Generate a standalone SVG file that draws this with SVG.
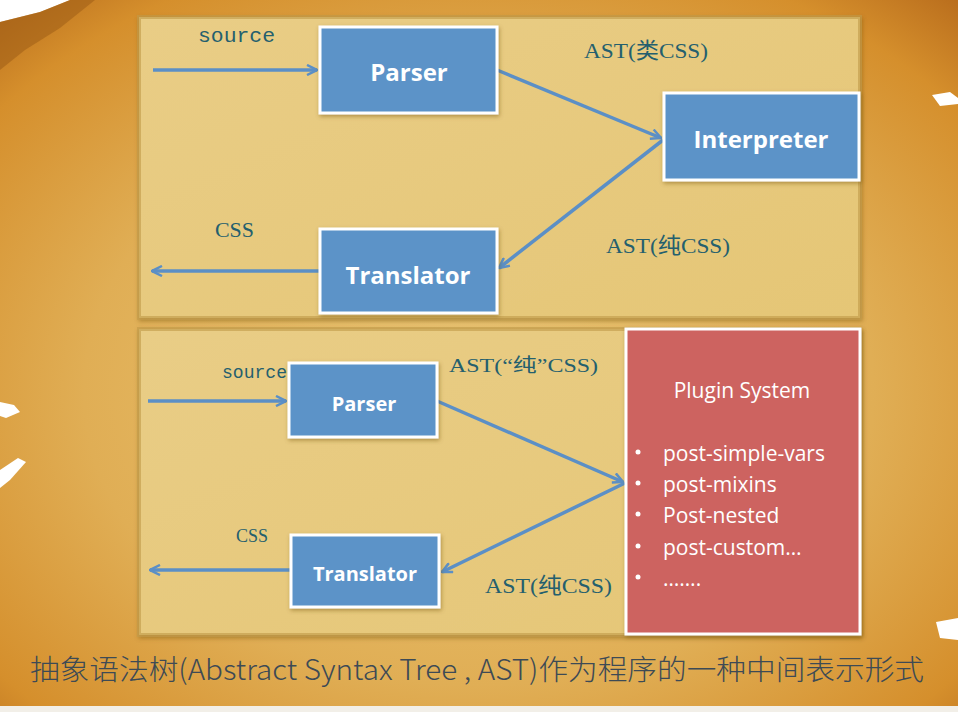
<svg xmlns="http://www.w3.org/2000/svg" width="958" height="712" viewBox="0 0 958 712">
<defs>
<radialGradient id="bg" cx="0.5" cy="0.55" r="0.75">
<stop offset="0" stop-color="#ecc978"/>
<stop offset="0.55" stop-color="#e0ae55"/>
<stop offset="0.85" stop-color="#d58f2c"/>
<stop offset="1" stop-color="#b86c1c"/>
</radialGradient>
<linearGradient id="panel" x1="0" y1="0" x2="1" y2="1">
<stop offset="0" stop-color="#e9cd86"/>
<stop offset="1" stop-color="#e5c676"/>
</linearGradient>
<marker id="ah" viewBox="0 0 12 12" refX="11" refY="6" markerWidth="12" markerHeight="12" markerUnits="userSpaceOnUse" orient="auto">
<path d="M1,1 L11,6 L1,11" fill="none" stroke="#5b8fc6" stroke-width="2.5" stroke-linejoin="miter"/>
</marker>
<filter id="sh" x="-10%" y="-10%" width="120%" height="120%">
<feDropShadow dx="1" dy="2" stdDeviation="2" flood-color="#6b4a10" flood-opacity="0.45"/>
</filter>
</defs>
<style>
.box{fill:#5b93c8;stroke:#ffffff;stroke-width:3}
.bt{font-family:"Open Sans","Liberation Sans",sans-serif;font-weight:bold;fill:#ffffff;text-anchor:middle}
.lbl{font-family:"Liberation Serif","Noto Sans CJK SC",serif;fill:#245f6e}
.mono{font-family:"Liberation Mono","DejaVu Sans Mono",monospace;fill:#245f6e}
.conn{stroke:#5b8fc6;stroke-width:3.5;fill:none;marker-end:url(#ah)}
.pl{font-family:"Open Sans","Liberation Sans",sans-serif;fill:#ffffff;font-size:21px}
.panel{fill:url(#panel);stroke:#bf9a48;stroke-width:4;stroke-opacity:0.6}
</style>
<rect x="0" y="0" width="958" height="712" fill="url(#bg)"/>
<path d="M0,0 L70,0 L40,12 L0,22 Z" fill="#ffffff"/>
<path d="M0,22 L40,12 L70,0 L95,0 L60,28 L25,50 L0,70 Z" fill="#9a5a14" opacity="0.5"/>
<path d="M932,95 L950,92 L958,98 L958,104 L940,106 Z" fill="#ffffff"/>
<path d="M0,402 L14,405 L20,412 L6,418 L0,416 Z" fill="#ffffff"/>
<path d="M0,470 L18,458 L26,462 L10,480 L0,488 Z" fill="#ffffff"/>
<path d="M936,622 L958,618 L958,640 L940,638 Z" fill="#ffffff"/>
<rect x="0" y="706" width="958" height="6" fill="#f2efe8"/>

<g id="panel-top"><rect class="panel" x="139" y="17" width="721" height="301" filter="url(#sh)"/></g>
<g id="panel-bottom"><rect class="panel" x="139" y="329" width="721" height="306" filter="url(#sh)"/></g>

<g id="connectors">
<line class="conn" x1="153" y1="70" x2="317" y2="70"/>
<line class="conn" x1="497" y1="70" x2="661" y2="138"/>
<line class="conn" x1="663" y1="140" x2="499" y2="268"/>
<line class="conn" x1="319" y1="271" x2="152" y2="271"/>
<line class="conn" x1="148" y1="401" x2="286" y2="401"/>
<line class="conn" x1="437" y1="401" x2="623" y2="482"/>
<line class="conn" x1="625" y1="483" x2="442" y2="572"/>
<line class="conn" x1="290" y1="570" x2="150" y2="570"/>
</g>

<g id="labels">
<text class="mono" x="198" y="42" font-size="20" textLength="77" lengthAdjust="spacingAndGlyphs">source</text>
<text class="lbl" x="215" y="237" font-size="22" textLength="39" lengthAdjust="spacingAndGlyphs">CSS</text>
<text class="lbl" x="584" y="58" font-size="22" textLength="124" lengthAdjust="spacingAndGlyphs">AST(类CSS)</text>
<text class="lbl" x="606" y="253" font-size="22" textLength="124" lengthAdjust="spacingAndGlyphs">AST(纯CSS)</text>
<text class="mono" x="222" y="378" font-size="18" textLength="65" lengthAdjust="spacingAndGlyphs">source</text>
<text class="lbl" x="449" y="372" font-size="19" textLength="149" lengthAdjust="spacingAndGlyphs">AST(“纯”CSS)</text>
<text class="lbl" x="236" y="542" font-size="19" textLength="32" lengthAdjust="spacingAndGlyphs">CSS</text>
<text class="lbl" x="485" y="593" font-size="22" textLength="127" lengthAdjust="spacingAndGlyphs">AST(纯CSS)</text>
</g>

<g id="parser-top"><rect class="box" x="320" y="27" width="177" height="86" filter="url(#sh)"/><text class="bt" x="409" y="81" font-size="24">Parser</text></g>
<g id="interpreter"><rect class="box" x="664" y="93" width="195" height="87" filter="url(#sh)"/><text class="bt" x="761" y="148" font-size="24">Interpreter</text></g>
<g id="translator-top"><rect class="box" x="320" y="229" width="177" height="84" filter="url(#sh)"/><text class="bt" x="408" y="284" font-size="24">Translator</text></g>

<g id="parser-bottom"><rect class="box" x="289" y="363" width="148" height="74" filter="url(#sh)"/><text class="bt" x="364" y="411" font-size="20">Parser</text></g>
<g id="translator-bottom"><rect class="box" x="291" y="535" width="148" height="72" filter="url(#sh)"/><text class="bt" x="365" y="581" font-size="20">Translator</text></g>

<g id="plugin-system">
<rect x="626" y="329" width="234" height="305" fill="#cd6361" stroke="#ffffff" stroke-width="3" filter="url(#sh)"/>
<text class="pl" x="742" y="398" text-anchor="middle">Plugin System</text>
<g class="pl">
<circle cx="638" cy="452" r="2.5" fill="#fff"/><text x="663" y="461">post-simple-vars</text>
<circle cx="638" cy="483" r="2.5" fill="#fff"/><text x="663" y="492">post-mixins</text>
<circle cx="638" cy="514" r="2.5" fill="#fff"/><text x="663" y="523">Post-nested</text>
<circle cx="638" cy="546" r="2.5" fill="#fff"/><text x="663" y="555">post-custom…</text>
<circle cx="638" cy="577" r="2.5" fill="#fff"/><text x="663" y="586">…….</text>
</g>
</g>

<text x="30" y="680" font-family="'Noto Sans CJK SC','DejaVu Sans',sans-serif" font-size="28" font-weight="300" fill="#3d4a55" textLength="894" lengthAdjust="spacingAndGlyphs">抽象语法树(Abstract Syntax Tree , AST)作为程序的一种中间表示形式</text>
</svg>
